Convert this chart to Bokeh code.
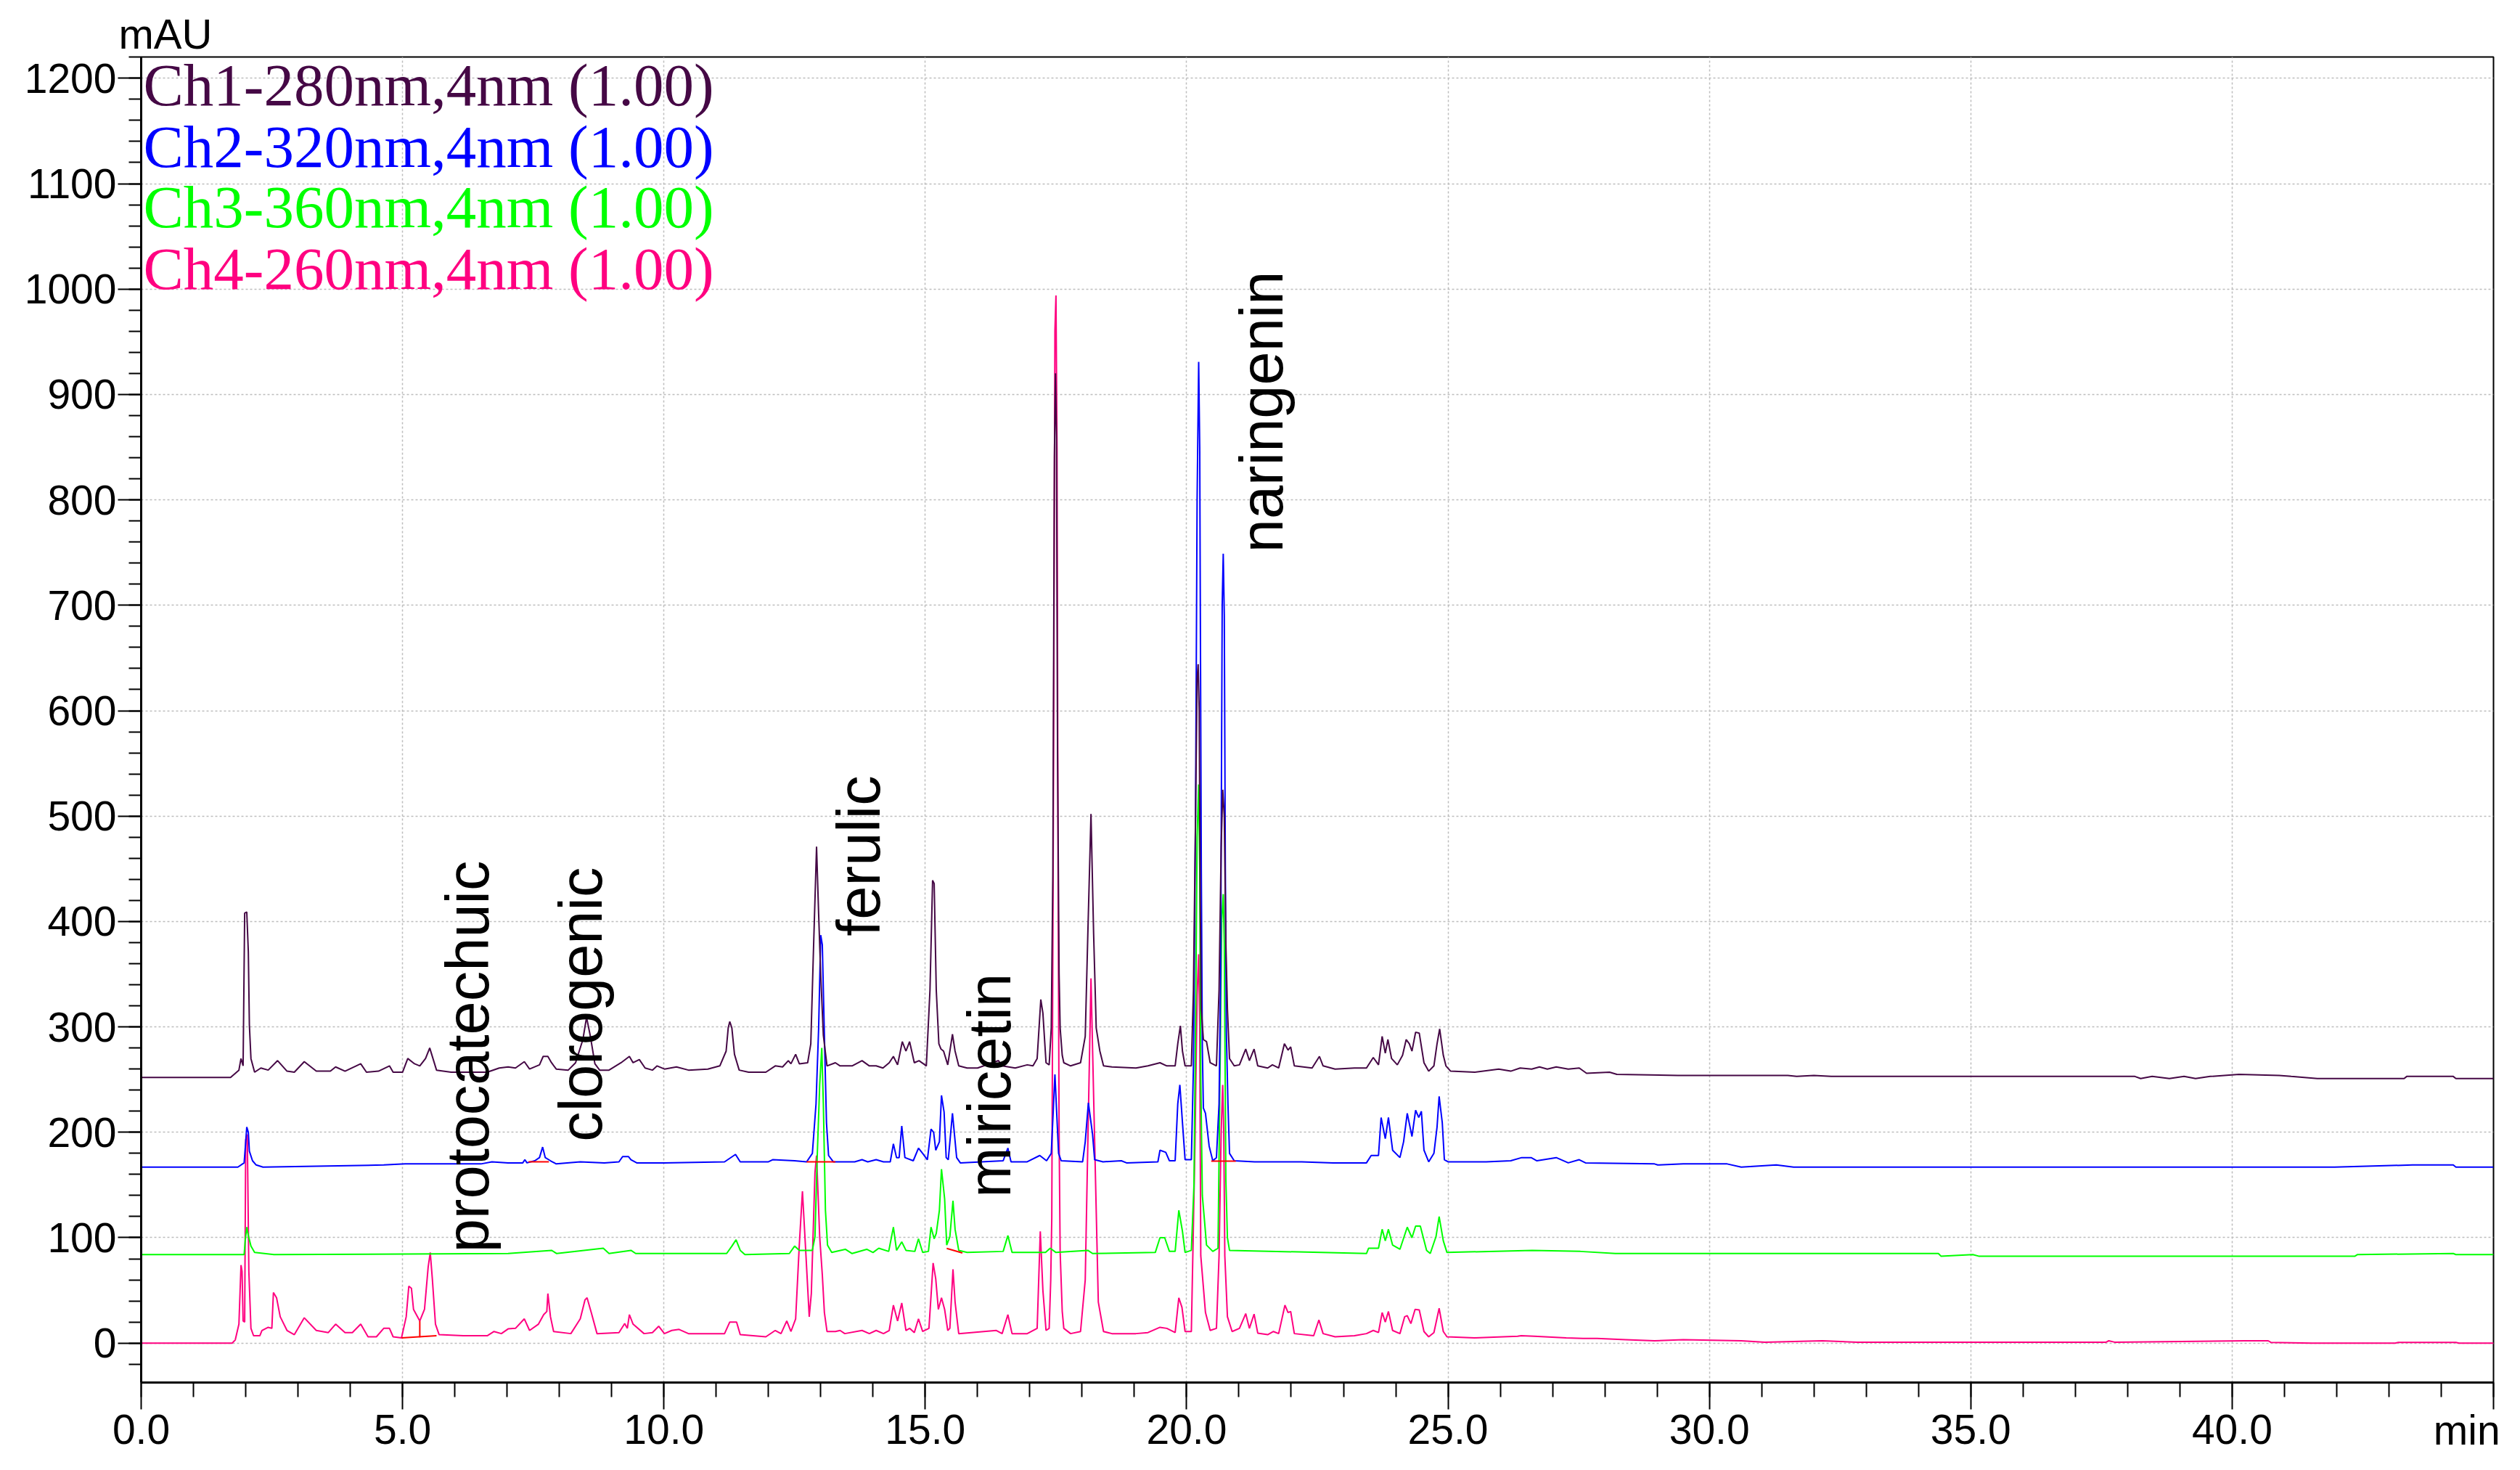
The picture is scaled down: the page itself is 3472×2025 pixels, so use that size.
from bokeh.plotting import figure
from bokeh.models import Label, Range1d, FixedTicker, LinearAxis
from bokeh.embed import file_html
from bokeh.resources import INLINE

# ---------------- data ----------------
CHANNELS = ["Ch1-280nm,4nm (1.00)", "Ch2-320nm,4nm (1.00)",
            "Ch3-360nm,4nm (1.00)", "Ch4-260nm,4nm (1.00)"]
COLORS = ["#450845", "#0000FF", "#00FF00", "#FF0080"]

CH1_T = [0, 1.71, 1.87, 1.91, 1.95, 1.98, 2.02, 2.05, 2.07, 2.10, 2.17, 2.29, 2.43, 2.61, 2.79, 2.93, 3.12, 3.35,
         3.62, 3.72, 3.90, 4.20, 4.31, 4.54, 4.75, 4.82, 5.00, 5.10, 5.23, 5.33, 5.44, 5.52, 5.65, 5.93, 6.39, 6.62,
         6.85, 7.02, 7.16, 7.33, 7.43, 7.62, 7.69, 7.78, 7.85, 7.94, 8.17, 8.31, 8.45, 8.52, 8.59, 8.68, 8.77, 8.95,
         9.18, 9.34, 9.41, 9.53, 9.64, 9.78, 9.87, 10.01, 10.24, 10.47, 10.84, 11.07, 11.19, 11.23, 11.26, 11.30,
         11.35, 11.44, 11.62, 11.95, 12.13, 12.27, 12.38, 12.43, 12.52, 12.59, 12.75, 12.81, 12.86, 12.92, 12.96,
         13.00, 13.05, 13.12, 13.28, 13.37, 13.60, 13.79, 13.93, 14.06, 14.19, 14.31, 14.39, 14.47, 14.56, 14.63,
         14.70, 14.79, 14.88, 15.02, 15.09, 15.14, 15.17, 15.21, 15.26, 15.30, 15.35, 15.43, 15.52, 15.57, 15.64,
         15.80, 16.00, 16.40, 16.47, 16.72, 16.95, 17.06, 17.14, 17.21, 17.25, 17.31, 17.37, 17.41, 17.44, 17.47,
         17.49, 17.51, 17.53, 17.56, 17.58, 17.62, 17.65, 17.78, 17.97, 18.06, 18.11, 18.17, 18.22, 18.27, 18.34,
         18.41, 18.57, 19.03, 19.26, 19.49, 19.62, 19.78, 19.83, 19.88, 19.92, 19.97, 20.09, 20.13, 20.17, 20.20,
         20.22, 20.24, 20.26, 20.28, 20.32, 20.38, 20.45, 20.57, 20.62, 20.66, 20.69, 20.72, 20.75, 20.78, 20.82,
         20.91, 21.01, 21.13, 21.20, 21.29, 21.36, 21.55, 21.64, 21.76, 21.87, 21.94, 21.99, 22.06, 22.40, 22.54,
         22.61, 22.84, 23.21, 23.44, 23.57, 23.67, 23.74, 23.80, 23.85, 23.92, 24.03, 24.13, 24.20, 24.26, 24.31,
         24.38, 24.45, 24.54, 24.63, 24.73, 24.79, 24.84, 24.91, 24.96, 25.05, 25.51, 25.97, 26.20, 26.38, 26.60,
         26.75, 26.90, 27.07, 27.30, 27.51, 27.65, 28.09, 28.23, 29.40, 31.50, 31.67, 32.00, 32.33, 38.14, 38.25,
         38.47, 38.80, 39.08, 39.30, 39.58, 40.13, 40.90, 41.13, 41.63, 43.29, 43.34, 44.23, 44.28, 45.00]
CH1_Y = [252, 252, 259, 270, 263, 408, 409, 371, 302, 270, 257, 261, 259, 268, 258, 257, 267, 258,
         258, 262, 258, 265, 257, 258, 263, 257, 257, 270, 265, 263, 270, 280, 259, 257, 257, 257,
         261, 262, 261, 267, 260, 264, 272, 272, 266, 260, 259, 266, 288, 309, 292, 265, 259, 259,
         266, 272, 266, 269, 261, 259, 263, 260, 262, 259, 260, 263, 277, 299, 305, 299,
         274, 259, 257, 257, 263, 262, 268, 265, 274, 265, 266, 284, 371, 471, 407,
         349, 292, 263, 266, 263, 263, 268, 263, 263, 261, 266, 272, 264, 286, 277,
         286, 266, 268, 263, 335, 439, 436, 335, 284, 279, 277, 264, 293, 277, 263,
         261, 261, 268, 263, 261, 264, 263, 270, 326, 313, 266, 264, 299, 443, 840,
         920, 860, 560, 350, 299, 273, 266, 263, 266, 291, 389, 502, 389, 299, 277,
         263, 262, 261, 263, 266, 263, 263, 284, 301, 277, 263, 263, 335, 500, 630,
         644, 600, 420, 317, 288, 286, 266, 263, 335, 470, 525, 500, 380, 317, 270,
         263, 264, 279, 268, 279, 263, 261, 264, 261, 284, 278, 281, 263, 261, 272,
         263, 260, 261, 261, 271, 264, 291, 275, 288, 270, 264, 273, 288, 284, 277,
         295, 294, 266, 258, 263, 284, 298, 273, 263, 258, 257, 260, 258, 261, 260,
         262, 260, 262, 260, 261, 256, 257, 255, 254, 254, 253, 254, 253, 253, 251,
         253, 251, 253, 251, 253, 255, 254, 253, 251, 251, 253, 253, 251, 251]

CH2_T = [0, 1.85, 1.97, 2.00, 2.02, 2.05, 2.07, 2.13, 2.20, 2.33, 4.64, 5.05, 6.50, 6.71, 7.02, 7.30, 7.34, 7.38,
         7.53, 7.62, 7.68, 7.73, 7.83, 7.94, 8.40, 8.86, 9.14, 9.21, 9.32, 9.37, 9.48, 10.00, 11.16, 11.37, 11.46,
         12.00, 12.08, 12.50, 12.73, 12.84, 12.91, 12.96, 13.00, 13.03, 13.07, 13.11, 13.15, 13.24, 13.65, 13.79,
         13.90, 14.06, 14.20, 14.33, 14.39, 14.45, 14.50, 14.55, 14.61, 14.77, 14.87, 14.95, 15.04, 15.11, 15.16,
         15.20, 15.27, 15.31, 15.36, 15.40, 15.44, 15.52, 15.60, 15.67, 16.49, 16.58, 16.64, 16.95, 17.19, 17.32,
         17.41, 17.48, 17.55, 17.60, 18.01, 18.06, 18.12, 18.20, 18.24, 18.40, 18.75, 18.85, 19.45, 19.49, 19.60,
         19.67, 19.78, 19.83, 19.87, 19.92, 19.97, 20.09, 20.13, 20.17, 20.20, 20.23, 20.25, 20.28, 20.30, 20.32,
         20.36, 20.43, 20.50, 20.57, 20.62, 20.65, 20.68, 20.70, 20.72, 20.74, 20.76, 20.79, 20.82, 20.91, 21.30,
         21.66, 22.20, 22.80, 23.44, 23.53, 23.67, 23.72, 23.80, 23.86, 23.94, 24.08, 24.15, 24.22, 24.31, 24.38,
         24.44, 24.49, 24.54, 24.63, 24.73, 24.79, 24.83, 24.89, 24.93, 25.00, 25.73, 26.20, 26.41, 26.59, 26.70,
         27.07, 27.30, 27.51, 27.63, 28.95, 29.01, 29.50, 30.34, 30.61, 31.28, 31.61, 39.47, 39.91, 41.96, 43.45,
         44.23, 44.28, 45.00]
CH2_Y = [167, 167, 171, 191, 205, 200, 182, 173, 169, 167, 169, 170, 170, 172, 171, 171, 174, 171,
         173, 176, 186, 176, 173, 170, 172, 171, 172, 177, 177, 174, 171, 171, 172, 179, 172,
         172, 174, 173, 172, 180, 227, 299, 387, 378, 292, 209, 178, 172, 172, 174,
         172, 174, 172, 172, 189, 176, 176, 206, 176, 173, 185, 180, 174, 203, 200,
         183, 191, 235, 219, 176, 174, 218, 176, 171, 173, 185, 172, 172, 178, 173,
         180, 255, 180, 173, 172, 191, 228, 198, 174, 172, 173, 171, 172, 183, 181,
         173, 173, 227, 245, 209, 174, 174, 263, 500, 800, 931, 850, 450, 280, 223,
         218, 187, 173, 176, 227, 350, 700, 749, 690, 450, 294, 227, 180, 173, 172,
         172, 172, 171, 171, 178, 178, 214, 194, 214, 183, 176, 191, 218, 196, 221,
         214, 220, 183, 172, 180, 205, 234, 209, 174, 172, 172, 173, 176, 176, 173,
         176, 171, 174, 171, 170, 169, 170, 170, 167, 169, 167, 167, 167, 167, 169,
         169, 167, 167]

CH3_T = [0, 1.97, 1.99, 2.02, 2.05, 2.10, 2.17, 2.54, 7.02, 7.85, 7.95, 8.84, 8.95, 9.37, 9.46, 11.20, 11.30, 11.38,
         11.46, 11.55, 12.40, 12.50, 12.59, 12.84, 12.89, 12.93, 12.98, 13.02, 13.05, 13.09, 13.13, 13.21, 13.47,
         13.60, 13.88, 14.00, 14.11, 14.30, 14.39, 14.45, 14.55, 14.63, 14.80, 14.87, 14.95, 15.06, 15.11, 15.17,
         15.21, 15.27, 15.31, 15.37, 15.41, 15.47, 15.53, 15.57, 15.64, 15.80, 16.49, 16.58, 16.66, 17.30, 17.39,
         17.50, 18.11, 18.20, 19.40, 19.49, 19.58, 19.67, 19.78, 19.85, 19.92, 19.97, 20.09, 20.14, 20.17, 20.20,
         20.23, 20.25, 20.27, 20.30, 20.34, 20.38, 20.50, 20.60, 20.64, 20.67, 20.70, 20.72, 20.75, 20.78, 20.82,
         23.44, 23.48, 23.67, 23.74, 23.80, 23.86, 23.94, 24.08, 24.22, 24.31, 24.38, 24.47, 24.59, 24.66, 24.77,
         24.83, 24.91, 24.98, 26.61, 27.53, 28.20, 34.38, 34.43, 35.04, 35.15, 42.35, 42.40, 44.23, 44.28, 45.00]
CH3_Y = [84, 84, 97, 110, 102, 92, 86, 84, 85, 88, 85, 90, 85, 88, 85, 85, 92, 98,
         88, 84, 85, 92, 88, 88, 101, 173, 245, 280, 227, 126, 93, 86, 89,
         85, 89, 86, 90, 87, 110, 88, 96, 88, 87, 99, 86, 87, 110, 99,
         104, 126, 165, 137, 93, 101, 135, 108, 88, 86, 87, 102, 86, 86, 90,
         86, 88, 85, 86, 100, 100, 87, 87, 126, 106, 86, 88, 150, 300, 480,
         530, 450, 250, 140, 117, 93, 87, 90, 263, 400, 426, 380, 155, 100, 88,
         85, 90, 90, 108, 97, 108, 93, 89, 110, 100, 111, 111, 88, 85, 101,
         120, 97, 86, 88, 87, 85, 85, 82.5, 84, 82.5, 82.5, 84, 85, 84, 84]

CH4_T = [0, 1.74, 1.80, 1.87, 1.91, 1.93, 1.95, 1.98, 2.00, 2.03, 2.06, 2.10, 2.15, 2.27, 2.31, 2.43, 2.50, 2.53,
         2.59, 2.66, 2.79, 2.93, 3.12, 3.35, 3.58, 3.72, 3.90, 4.04, 4.20, 4.34, 4.50, 4.64, 4.75, 4.82, 4.98,
         5.07, 5.12, 5.17, 5.21, 5.33, 5.42, 5.49, 5.53, 5.57, 5.63, 5.70, 6.16, 6.62, 6.75, 6.89, 7.02, 7.16,
         7.33, 7.43, 7.60, 7.70, 7.76, 7.78, 7.83, 7.89, 8.22, 8.40, 8.49, 8.53, 8.61, 8.72, 9.14, 9.25, 9.30,
         9.34, 9.41, 9.62, 9.78, 9.90, 10.01, 10.15, 10.29, 10.47, 11.16, 11.26, 11.39, 11.46, 11.95, 12.13,
         12.24, 12.35, 12.43, 12.52, 12.59, 12.65, 12.71, 12.78, 12.82, 12.89, 12.92, 12.98, 13.03, 13.07, 13.12,
         13.28, 13.37, 13.46, 13.79, 13.93, 14.06, 14.20, 14.31, 14.39, 14.47, 14.55, 14.63, 14.70, 14.79, 14.87,
         14.95, 15.07, 15.15, 15.20, 15.25, 15.31, 15.37, 15.43, 15.47, 15.53, 15.57, 15.64, 16.36, 16.47, 16.58,
         16.66, 16.95, 17.14, 17.20, 17.25, 17.31, 17.37, 17.40, 17.42, 17.45, 17.48, 17.50, 17.52, 17.54, 17.56,
         17.58, 17.62, 17.65, 17.78, 17.97, 18.06, 18.11, 18.17, 18.24, 18.31, 18.41, 18.57, 19.03, 19.26, 19.49,
         19.62, 19.78, 19.85, 19.91, 19.97, 20.09, 20.16, 20.20, 20.23, 20.25, 20.27, 20.36, 20.45, 20.57, 20.62,
         20.66, 20.69, 20.71, 20.73, 20.78, 20.87, 21.01, 21.13, 21.20, 21.29, 21.36, 21.55, 21.66, 21.76, 21.88,
         21.94, 21.99, 22.06, 22.43, 22.53, 22.61, 22.84, 23.21, 23.44, 23.57, 23.67, 23.74, 23.80, 23.86, 23.94,
         24.08, 24.17, 24.22, 24.29, 24.37, 24.45, 24.54, 24.63, 24.73, 24.83, 24.91, 24.98, 25.51, 26.33, 26.40,
         26.65, 27.26, 27.58, 27.85, 28.40, 28.95, 29.50, 30.61, 31.06, 32.16, 32.83, 37.59, 37.64, 37.75, 40.24,
         40.69, 40.74, 41.52, 43.12, 43.18, 44.28, 44.34, 45.00]
CH4_Y = [0, 0, 3, 18, 74, 68, 21, 20, 193, 198, 68, 14, 7, 7, 12, 15, 14, 48,
         43, 25, 12, 8, 24, 12, 10, 18, 10, 10, 18, 6, 6, 14, 14, 6, 5,
         25, 54, 52, 32, 21, 32, 72, 86, 61, 18, 8, 7, 7, 11, 9, 13.5, 14,
         23, 12, 18, 27, 30, 47, 25, 11, 9, 23, 41, 43, 29, 9, 10, 18.5, 14,
         27, 18, 9, 10, 16, 9, 12, 13, 9, 9, 20, 20, 8, 6, 12,
         9, 21, 11, 23, 93, 144, 90, 25, 47, 162, 178, 101, 65, 29, 11,
         11, 12, 9, 12, 9, 12, 9, 12, 36, 21, 38, 12, 14, 10, 23,
         11, 14, 76, 61, 32, 43, 32, 12, 14, 70, 39, 9, 12, 9, 27,
         9, 9, 14, 106, 50, 12, 14, 60, 119, 500, 960, 994, 850, 450, 200,
         86, 30, 14, 9, 11, 60, 191, 346, 191, 39, 11, 9, 9, 10, 15,
         14, 10, 43, 34, 11, 11, 191, 330, 369, 300, 83, 29, 12, 14, 83,
         200, 245, 200, 83, 25, 11, 14, 28, 14, 27.5, 9.5, 8, 11, 9, 36,
         29, 30, 9, 7, 22, 9, 6, 7, 9, 12, 10, 29, 20, 30, 12,
         9, 25, 26, 18.5, 32, 31.5, 11, 6, 10, 33, 11, 6, 5, 6.5, 7,
         6.5, 5, 4.4, 4.4, 3.3, 2.2, 3.3, 2.2, 0.9, 2.2, 0.9, 0.9, 2.2, 0.9, 2.2,
         2.2, 0.7, 0, 0, 0.7, 0.7, 0, 0]

# integration baseline marks (red)
MARK_T0 = [4.98, 5.33, 7.41, 12.73, 15.41, 20.47]
MARK_Y0 = [5, 5.5, 172, 172, 89.8, 172.7]
MARK_T1 = [5.65, 5.33, 7.80, 13.28, 15.71, 20.94]
MARK_Y1 = [7, 21, 172, 172, 85.5, 172.7]

# compound labels
COMPOUNDS = ["protocatechuic", "clorogenic", "ferulic", "miricetin", "naringenin"]
COMPOUND_T = [6.63, 8.80, 14.12, 16.62, 21.83]
COMPOUND_Y = [86, 191, 386, 138, 750]

X_TICKS = [0, 5, 10, 15, 20, 25, 30, 35, 40, 45]
X_TICK_LABELS = ["0.0", "5.0", "10.0", "15.0", "20.0", "25.0", "30.0", "35.0", "40.0", ""]
Y_TICKS = [0, 100, 200, 300, 400, 500, 600, 700, 800, 900, 1000, 1100, 1200]
Y_TICK_LABELS = ["0", "100", "200", "300", "400", "500", "600", "700", "800", "900", "1000", "1100", "1200"]
X_UNIT = "min"
X_UNIT_AT = 44.49
Y_UNIT = "mAU"

# ---------------- figure ----------------
X0, X1 = 0, 45
Y0, Y1 = -37.4, 1220.2
FONT = "Liberation Sans"

p = figure(frame_width=3241, frame_height=1826,
           x_range=Range1d(X0, X1), y_range=Range1d(Y0, Y1),
           output_backend="svg", toolbar_location=None,
           min_border_left=194, min_border_top=78, min_border_right=30, min_border_bottom=112)
p.background_fill_color = "white"
p.border_fill_color = "white"
p.outline_line_color = "black"
p.outline_line_width = 2

# "mAU" above the y axis, as the title
p.title.text = Y_UNIT
p.title.align = "left"
p.title.offset = -31
p.title.standoff = 0
p.title.text_font = FONT
p.title.text_font_size = "58px"
p.title.text_font_style = "normal"
p.title.text_color = "black"

p.xaxis.ticker = FixedTicker(ticks=X_TICKS, minor_ticks=list(range(0, 46)))
p.yaxis.ticker = FixedTicker(ticks=Y_TICKS, minor_ticks=list(range(-20, 1221, 20)))
p.xaxis.major_label_overrides = {t: l for t, l in zip(X_TICKS, X_TICK_LABELS)}
p.yaxis.major_label_overrides = {t: l for t, l in zip(Y_TICKS, Y_TICK_LABELS)}

for ax in (p.xaxis[0], p.yaxis[0]):
    ax.axis_line_width = 3
    ax.axis_line_color = "black"
    ax.major_tick_line_width = 2
    ax.minor_tick_line_width = 2
    ax.major_tick_line_color = "black"
    ax.minor_tick_line_color = "black"
    ax.major_tick_in = 0
    ax.minor_tick_in = 0
    ax.major_label_text_font = FONT
    ax.major_label_text_font_size = "57px"
    ax.major_label_text_color = "black"
p.xaxis.major_tick_out = 37
p.xaxis.minor_tick_out = 20
p.xaxis.major_label_standoff = 7
p.yaxis.major_tick_out = 32
p.yaxis.minor_tick_out = 17
p.yaxis.major_label_standoff = 2

# second (invisible) bottom axis that only carries the "min" unit label,
# pulled up into the row of the tick labels
unit_axis = LinearAxis(ticker=FixedTicker(ticks=[X_UNIT_AT], minor_ticks=[]),
                       major_label_overrides={X_UNIT_AT: X_UNIT})
unit_axis.axis_line_color = None
unit_axis.major_tick_line_color = None
unit_axis.minor_tick_line_color = None
unit_axis.major_tick_out = 0
unit_axis.major_tick_in = 0
unit_axis.major_label_standoff = -54
unit_axis.major_label_text_font = FONT
unit_axis.major_label_text_font_size = "57px"
unit_axis.major_label_text_color = "black"
p.add_layout(unit_axis, "below")

for g in (p.xgrid[0], p.ygrid[0]):
    g.grid_line_color = "#BDBDBD"
    g.grid_line_width = 1.5
    g.grid_line_dash = "3 3"

# traces
traces = [(CH4_T, CH4_Y, COLORS[3]), (CH3_T, CH3_Y, COLORS[2]),
          (CH2_T, CH2_Y, COLORS[1]), (CH1_T, CH1_Y, COLORS[0])]
for t, y, c in traces:
    p.line(t, y, line_color=c, line_width=2)

p.segment(x0=MARK_T0, y0=MARK_Y0, x1=MARK_T1, y1=MARK_Y1, line_color="#FF0000", line_width=2)

# legend texts (upper left, inside frame)
LEG_Y = [1174.3, 1115.7, 1058.6, 1000.0]
for name, c, yy in zip(CHANNELS, COLORS, LEG_Y):
    p.add_layout(Label(x=0.04, y=yy, y_offset=28, text=name, text_color=c, text_font="Liberation Serif",
                       text_font_size="83px", text_align="left", text_baseline="alphabetic"))

# compound annotations (vertical)
for name, t, y in zip(COMPOUNDS, COMPOUND_T, COMPOUND_Y):
    p.add_layout(Label(x=t, y=y, x_offset=-28, text=name, angle=1.5707963, text_color="black",
                       text_font=FONT, text_font_size="83px", text_align="left",
                       text_baseline="alphabetic"))

open("out.html", "w").write(file_html(p, INLINE))
